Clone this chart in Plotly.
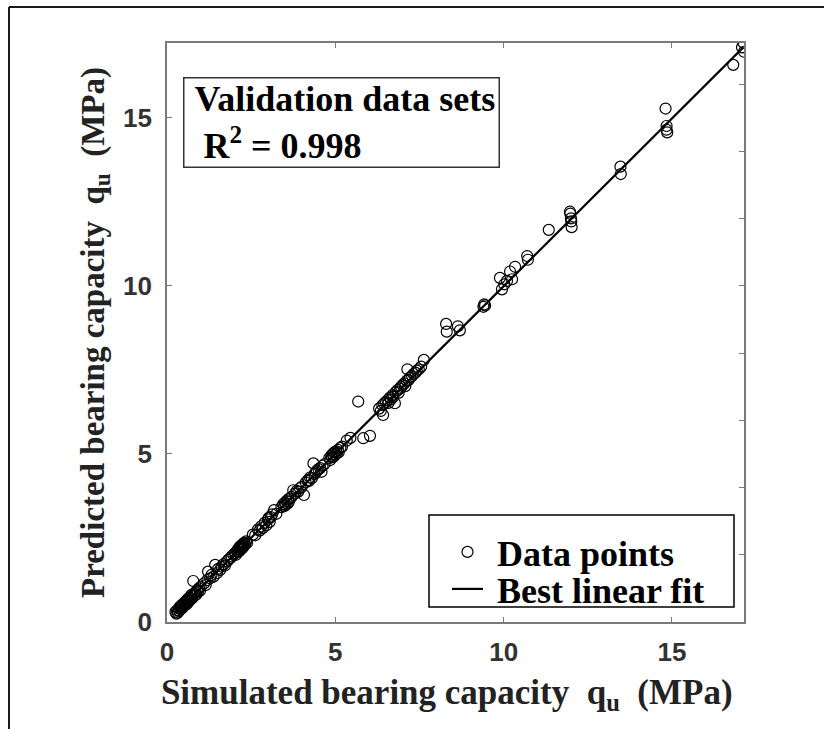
import plotly.graph_objects as go

# ---------------- data ----------------
SIM = [
    # 0.2 - 1.0
    0.25, 0.28, 0.30, 0.32, 0.35, 0.36, 0.38, 0.40, 0.42, 0.44, 0.45, 0.47, 0.50, 0.52, 0.53,
    0.55, 0.57, 0.58, 0.60, 0.62, 0.63, 0.65, 0.67, 0.70, 0.72, 0.74, 0.76, 0.78, 0.80, 0.82,
    0.85, 0.87, 0.90, 0.92, 0.95, 0.98, 1.00,
    # 1.1 - 2.0
    1.10, 1.15, 1.20, 1.22, 1.28, 1.32, 1.38, 1.43, 1.48, 1.52, 1.58, 1.62, 1.68, 1.72, 1.78,
    1.82, 1.88, 1.92, 1.97,
    # 2.0 - 2.4
    2.02, 2.05, 2.08, 2.10, 2.12, 2.14, 2.15, 2.17, 2.18, 2.20, 2.21, 2.22, 2.24, 2.25, 2.27,
    2.28, 2.30, 2.32, 2.35, 2.38,
    # 2.5 - 3.3
    2.55, 2.62, 2.70, 2.75, 2.80, 2.85, 2.90, 2.95, 3.00, 3.02, 3.05, 3.08, 3.12, 3.18, 3.25,
    # 3.4 - 3.7
    3.40, 3.45, 3.48, 3.50, 3.52, 3.55, 3.58, 3.60, 3.62, 3.65, 3.70,
    # 3.75 - 4.1
    3.75, 3.80, 3.85, 3.90, 3.95, 4.00, 4.07,
    # 4.1 - 4.7
    4.12, 4.18, 4.22, 4.25, 4.30, 4.35, 4.38, 4.42, 4.45, 4.50, 4.55, 4.59, 4.62, 4.68,
    # 4.8 - 5.2
    4.82, 4.85, 4.88, 4.90, 4.92, 4.95, 4.97, 5.00, 5.02, 5.05, 5.08, 5.10, 5.15, 5.20,
    # 5.3 - 6.1
    5.34, 5.45, 5.68, 5.83, 6.03,
    # 6.3 - 7.7
    6.30, 6.35, 6.40, 6.42, 6.45, 6.50, 6.55, 6.58, 6.62, 6.65, 6.70, 6.72, 6.77, 6.80, 6.85,
    6.88, 6.92, 6.95, 7.00, 7.05, 7.08, 7.12, 7.14, 7.18, 7.22, 7.28, 7.32, 7.38, 7.42, 7.48,
    7.55, 7.63,
    # 8.3 - 8.8
    8.29, 8.31, 8.64, 8.70,
    # 9.4
    9.40, 9.42, 9.45,
    # 9.9 - 10.4
    9.89, 9.95, 10.02, 10.10, 10.19, 10.25, 10.34,
    # 10.7
    10.70, 10.72,
    # 11.3
    11.34,
    # 12.0
    11.97, 11.98, 12.00, 12.01, 12.02,
    # 13.5
    13.47, 13.48,
    # 14.8
    14.81, 14.84, 14.84, 14.86,
    # 16.8 - 17.1
    16.82, 17.08, 17.12, 17.14,
]

PRED = [
    0.30, 0.25, 0.35, 0.28, 0.40, 0.33, 0.45, 0.38, 0.47, 0.40, 0.52, 0.44, 0.48, 0.58, 0.50,
    0.55, 0.62, 0.53, 0.66, 0.58, 0.70, 0.62, 0.72, 0.68, 0.80, 0.70, 0.78, 1.22, 0.85, 0.78,
    0.88, 0.82, 0.95, 0.90, 1.00, 0.93, 1.05,
    1.15, 1.10, 1.25, 1.50, 1.30, 1.40, 1.35, 1.70, 1.45, 1.58, 1.55, 1.65, 1.72, 1.68, 1.80,
    1.85, 1.90, 1.95, 2.00,
    2.05, 2.00, 2.12, 2.08, 2.18, 2.10, 2.22, 2.15, 2.25, 2.20, 2.28, 2.18, 2.30, 2.22, 2.34,
    2.26, 2.35, 2.30, 2.40, 2.36,
    2.60, 2.58, 2.75, 2.72, 2.85, 2.80, 2.95, 2.88, 3.05, 3.10, 2.98, 3.12, 3.20, 3.33, 3.22,
    3.42, 3.50, 3.45, 3.55, 3.48, 3.60, 3.52, 3.65, 3.58, 3.68, 3.72,
    3.92, 3.82, 3.90, 3.88, 3.98, 4.02, 3.78,
    4.15, 4.22, 4.20, 4.30, 4.28, 4.72, 4.40, 4.45, 4.50, 4.55, 4.58, 4.47, 4.65, 4.70,
    4.88, 4.82, 4.95, 4.90, 5.00, 4.92, 5.05, 4.98, 5.08, 5.02, 5.12, 5.05, 5.18, 5.22,
    5.40, 5.48, 6.56, 5.47, 5.54,
    6.35, 6.28, 6.45, 6.16, 6.50, 6.55, 6.60, 6.52, 6.68, 6.62, 6.75, 6.70, 6.51, 6.85, 6.90,
    6.82, 6.95, 7.00, 7.05, 7.10, 7.02, 7.18, 7.52, 7.20, 7.28, 7.32, 7.38, 7.42, 7.48, 7.52,
    7.60, 7.80,
    8.87, 8.64, 8.80, 8.68,
    9.38, 9.45, 9.42,
    10.24, 9.90, 10.05, 10.15, 10.43, 10.20, 10.57,
    10.89, 10.78,
    11.67,
    12.21, 12.15, 12.01, 11.92, 11.75,
    13.55, 13.33,
    15.28, 14.76, 14.65, 14.57,
    16.58, 17.10, 17.24, 16.97,
]

FIT_X = [0.25, 17.12]
FIT_Y = [0.26, 17.10]

X_TICKS = [0, 5, 10, 15]
Y_TICKS = [0, 5, 10, 15]
Y2_TICKS = [2, 4, 6, 8, 10, 12, 14, 16]
X_RANGE = [0, 17.14]
Y_RANGE = [0, 17.23]

# ---------------- layout geometry ----------------
W, H = 824, 729
ML, MR, MT, MB = 167, 80, 43, 107
PW, PH = W - ML - MR, H - MT - MB


def px(xp):
    return (xp - ML) / PW


def py(yp):
    return 1 - (yp - MT) / PH


SERIF = "Liberation Serif, Times New Roman, serif"
SANS = "Liberation Sans, Arial, sans-serif"
AX_COLOR = "#7a7a7a"

fig = go.Figure()
fig.add_trace(go.Scatter(
    x=SIM, y=PRED, mode="markers", name="&nbsp;Data points",
    legend="legend",
    marker=dict(symbol="circle-open", size=11, color="black", line=dict(width=1.2)),
))
fig.add_trace(go.Scatter(
    x=FIT_X, y=FIT_Y, mode="lines", name="&nbsp;Best linear fit",
    yaxis="y2", legend="legend2",
    line=dict(color="black", width=2.2),
))

tickfont = dict(family=SANS, size=26, color="#333333", weight="bold")
legfont = dict(family=SERIF, size=36, color="black", weight="bold")
leg_common = dict(
    xanchor="left", yanchor="middle", bgcolor="rgba(0,0,0,0)", borderwidth=0,
    font=legfont, itemwidth=31,
)

fig.update_layout(
    width=W, height=H,
    margin=dict(l=ML, r=MR, t=MT, b=MB, pad=0),
    paper_bgcolor="white", plot_bgcolor="white",
    showlegend=True,
    legend=dict(x=px(447), y=py(552), **leg_common),
    legend2=dict(x=px(447), y=py(589), **leg_common),
    xaxis=dict(
        range=X_RANGE, tickvals=X_TICKS, ticks="inside", ticklen=5, tickwidth=1,
        tickcolor=AX_COLOR, showline=True, linecolor=AX_COLOR, linewidth=1.6,
        mirror="ticks", showgrid=False, zeroline=False, tickfont=tickfont,
        ticklabelstandoff=6,
        title=dict(
            text="Simulated bearing capacity&nbsp;&nbsp;q<sub>u</sub>&nbsp;&nbsp;(MPa)&nbsp;&nbsp;",
            font=dict(family=SERIF, size=35, color="#222222", weight="bold"),
            standoff=13,
        ),
    ),
    yaxis=dict(
        range=Y_RANGE, tickvals=Y_TICKS, ticks="inside", ticklen=5, tickwidth=1,
        tickcolor=AX_COLOR, showline=True, linecolor=AX_COLOR, linewidth=1.6,
        mirror=True, showgrid=False, zeroline=False, tickfont=tickfont,
        ticklabelstandoff=8,
        title=dict(
            text="Predicted bearing capacity&nbsp;&nbsp;q<sub>u</sub>&nbsp;&nbsp;(MPa)",
            font=dict(family=SERIF, size=33, color="#222222", weight="bold"),
            standoff=9,
        ),
    ),
    yaxis2=dict(
        overlaying="y", side="right", range=Y_RANGE, tickvals=Y2_TICKS,
        ticks="inside", ticklen=5, tickwidth=1, tickcolor=AX_COLOR,
        showticklabels=False, showline=False, showgrid=False, zeroline=False,
    ),
    annotations=[dict(
        text="&nbsp;Validation data sets<br>&nbsp;&nbsp;R<sup>2</sup> = 0.998",
        x=px(183), y=py(77), xref="paper", yref="paper",
        xanchor="left", yanchor="top", align="left", valign="middle",
        showarrow=False, width=312, height=86,
        font=dict(family=SERIF, size=36, color="black", weight="bold"),
        bordercolor="#333333", borderwidth=1.5, borderpad=1, bgcolor="white",
    )],
    shapes=[
        # outer frame of the picture
        dict(type="line", xref="paper", yref="paper",
             x0=px(9), x1=px(824), y0=py(7), y1=py(7),
             line=dict(color="#1a1a1a", width=2)),
        dict(type="line", xref="paper", yref="paper",
             x0=px(9), x1=px(9), y0=py(7), y1=py(729),
             line=dict(color="#1a1a1a", width=2)),
        # legend frame
        dict(type="rect", xref="paper", yref="paper",
             x0=px(429), x1=px(734), y0=py(607), y1=py(515),
             line=dict(color="black", width=1.5), fillcolor="white", layer="below"),
    ],
)

fig.write_html("out.html")
